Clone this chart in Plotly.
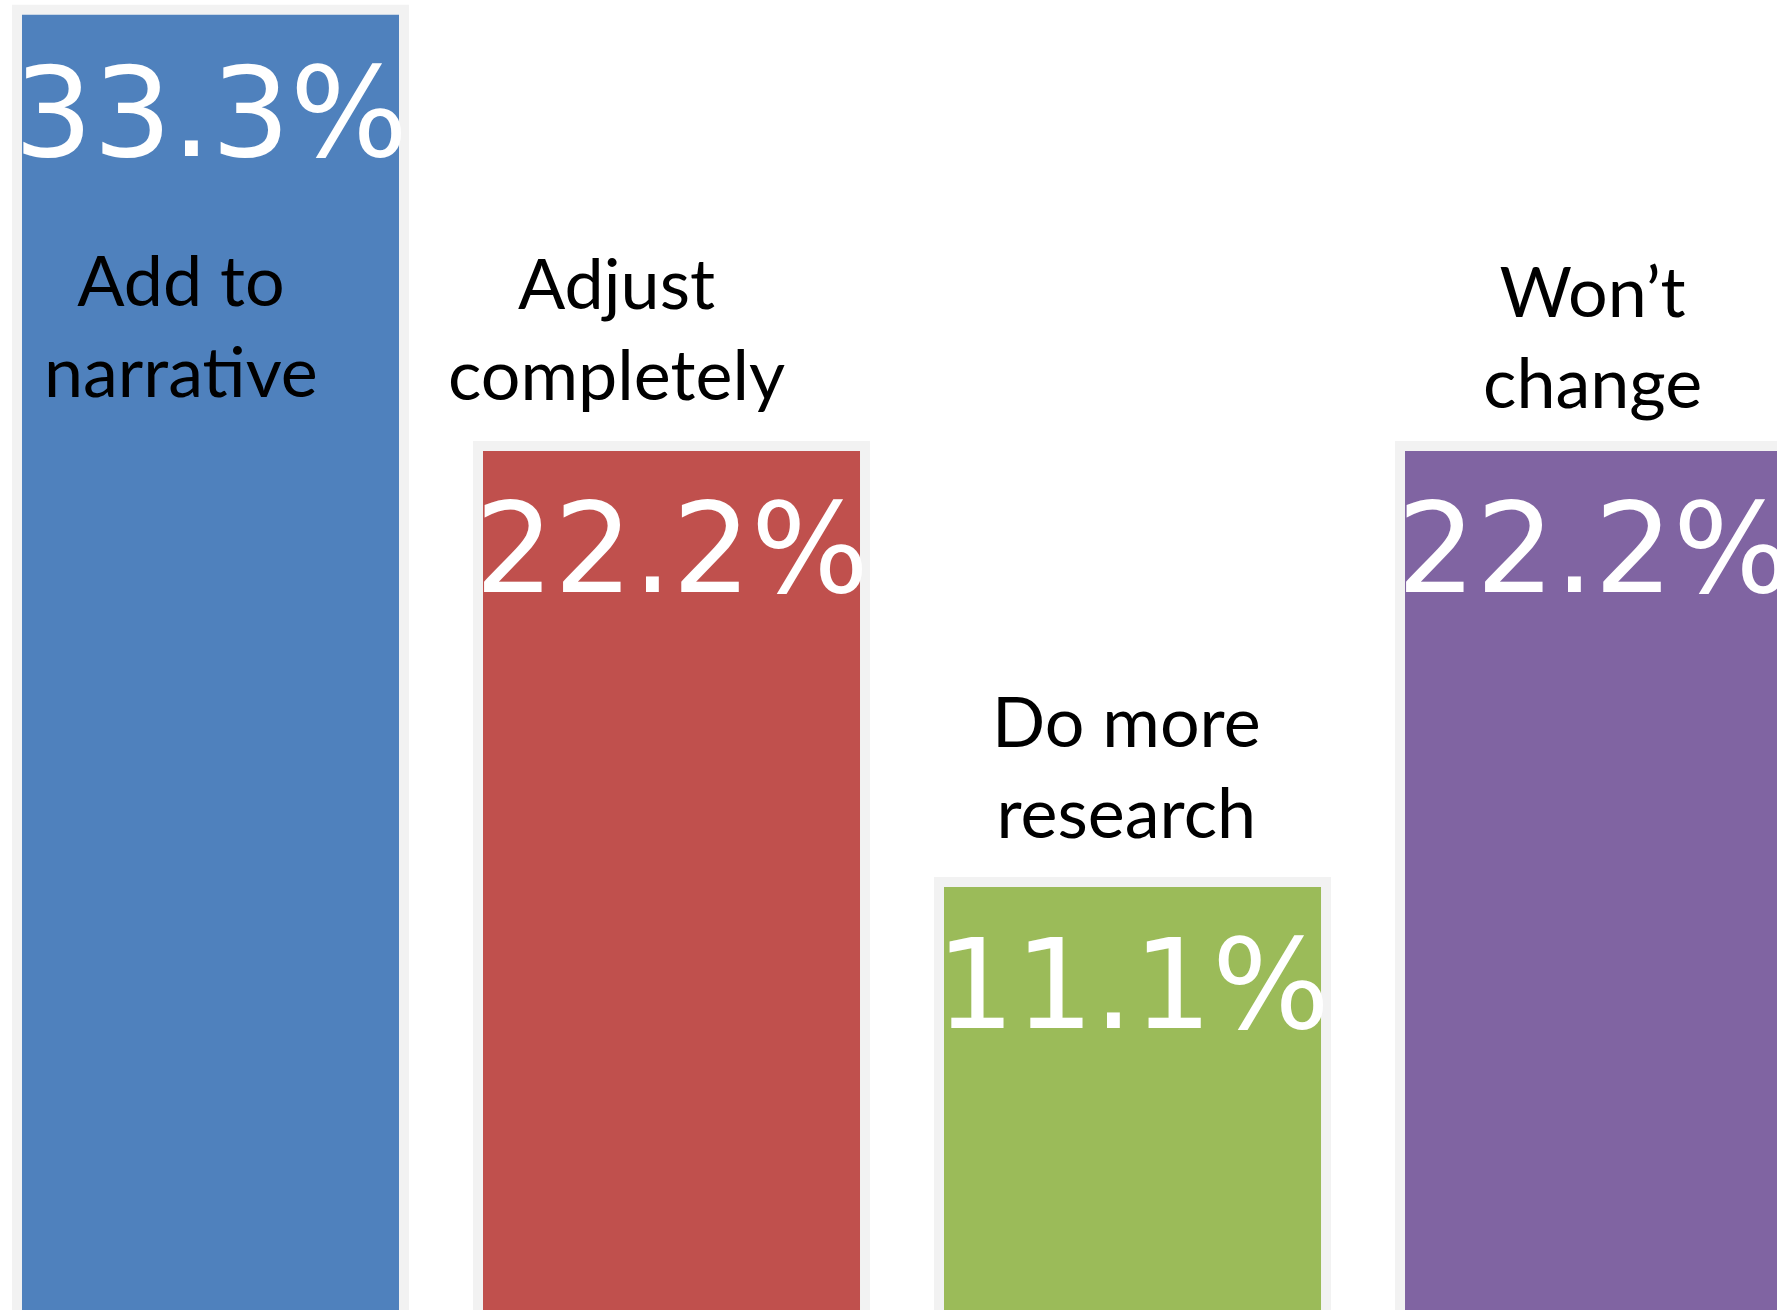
import plotly.graph_objects as go

categories = ["Add to narrative", "Adjust completely", "Do more research", "Won\u2019t change"]
label_lines = ["Add to<br>narrative", "Adjust<br>completely", "Do more<br>research", "Won\u2019t<br>change"]
values = [33.3, 22.2, 11.1, 22.2]
colors = ["#4F81BD", "#C0504D", "#9BBB59", "#8064A2"]

W, H = 1777, 1310

fig = go.Figure()
fig.add_trace(go.Bar(
    x=categories, y=values,
    marker=dict(color=colors, line=dict(color="rgb(242,242,242)", width=10)),
    width=0.8395,
    hoverinfo="skip",
))

annotations = []
for c, v in zip(categories, values):
    annotations.append(dict(
        x=c, y=v, xref="x", yref="y", text=f"{v:.1f}%",
        showarrow=False, yanchor="middle", xanchor="center", yshift=-103,
        font=dict(family="DejaVu Sans", size=124, color="white"),
    ))

label_px = [(181, 324), (616, 327), (1126, 765), (1592, 335)]
for txt, (px, py) in zip(label_lines, label_px):
    annotations.append(dict(
        x=px / W, y=1 - py / H, xref="paper", yref="paper", text=txt,
        showarrow=False, xanchor="center", yanchor="middle",
        font=dict(family="Lato", size=70, color="black"),
    ))

fig.update_layout(
    width=W, height=H,
    margin=dict(l=0, r=0, t=0, b=0),
    paper_bgcolor="white", plot_bgcolor="white",
    showlegend=False,
    annotations=annotations,
    xaxis=dict(type="category", range=[-0.4566, 3.398], showticklabels=False,
               showgrid=False, zeroline=False, showline=False),
    yaxis=dict(range=[0.204, 33.55], showticklabels=False, showgrid=False,
               zeroline=False, showline=False),
)

fig.write_html(
    "out.html",
    config={"displayModeBar": False},
    post_script=("document.body.style.margin='0';"
                 "document.body.style.overflow='hidden';"
                 "document.documentElement.style.overflow='hidden';"),
)
